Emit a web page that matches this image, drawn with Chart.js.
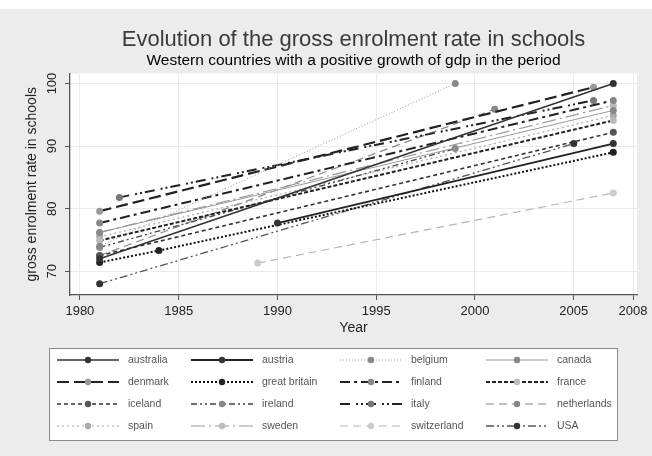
<!DOCTYPE html>
<html>
<head>
<meta charset="utf-8">
<script src="https://cdn.jsdelivr.net/npm/chart.js@4/dist/chart.umd.min.js"></script>
<style>
  html, body { margin: 0; padding: 0; background: #ececec; }
  #wrap { width: 652px; height: 456px; }
</style>
</head>
<body>
<div id="wrap"><canvas id="chart" width="652" height="456"></canvas></div>
<script>
// Gross enrolment rate, western countries

const countries = [
  'australia', 'austria', 'belgium', 'canada',
  'denmark', 'great britain', 'finland', 'france',
  'iceland', 'ireland', 'italy', 'netherlands',
  'spain', 'sweden', 'switzerland', 'USA',
];

// observation years per country (same order as countries)
const years = [
  [1981, 2007], [1990, 2007], [1981, 1999], [1981, 2007],
  [1981, 2006], [1981, 1984, 2007], [1981, 2007], [1981, 2007],
  [1981, 2007], [1981, 1999], [1982, 2006], [1981, 2001],
  [1981, 2007], [1981, 2007], [1989, 2007], [1981, 2005],
];

// gross enrolment rate at those years
const rates = [
  [72.0, 100.0], [77.7, 90.4], [74.0, 100.0], [76.2, 95.7],
  [79.6, 99.4], [71.4, 73.3, 89.0], [77.7, 97.3], [74.9, 94.1],
  [72.5, 92.2], [73.8, 89.6], [81.8, 97.3], [72.5, 95.9],
  [75.5, 94.9], [76.2, 96.5], [71.3, 82.5], [68.0, 90.4],
];

const xTicks = [1980, 1985, 1990, 1995, 2000, 2005, 2008];
const yTicks = [70, 80, 90, 100];

// --- Styles (greyscale, stata-like) ---
const lineColors = [
  '#333', '#222', '#9a9a9a', '#9a9a9a',
  '#222', '#111', '#222', '#222',
  '#333', '#444', '#222', '#888',
  '#aaa', '#999', '#b5b5b5', '#555',
];
const lineWidths = [1.6, 1.8, 1, 1, 2.2, 2, 2, 2, 1.6, 1.3, 2, 1.2, 1.2, 1.2, 1.2, 1.3];
const dashes = [
  [], [], [1, 2], [],
  [12, 5], [2, 2], [10, 4, 3, 4], [4, 2],
  [4, 3], [6, 3, 2, 3, 2, 3], [10, 6, 2, 3, 2, 3], [8, 5],
  [2, 3], [14, 4, 2, 4], [8, 5], [8, 3, 2, 3, 2, 3],
];
const markerColors = [
  '#333', '#333', '#888', '#888',
  '#999', '#222', '#888', '#bbb',
  '#555', '#888', '#777', '#888',
  '#aaa', '#bbb', '#ccc', '#333',
];

const FONT = "'Liberation Sans', Arial, sans-serif";
Chart.defaults.font.family = FONT;

const datasets = countries.map((name, i) => ({
  label: name,
  data: years[i].map((yr, j) => ({ x: yr, y: rates[i][j] })),
  borderColor: lineColors[i],
  borderWidth: lineWidths[i],
  borderDash: dashes[i],
  pointBackgroundColor: markerColors[i],
  pointBorderColor: markerColors[i],
  pointRadius: 3.5,
  pointBorderWidth: 0,
  tension: 0,
  fill: false,
}));

// background: grey graph region, white plot region
const backdrop = {
  id: 'backdrop',
  beforeDraw(chart) {
    const { ctx, chartArea: a } = chart;
    ctx.save();
    ctx.fillStyle = '#ececec';
    ctx.fillRect(0, 0, chart.width, chart.height);
    ctx.fillStyle = '#ffffff';
    ctx.fillRect(0, 0, chart.width, 9);
    ctx.fillRect(a.left, a.top, a.right - a.left, a.bottom - a.top);
    ctx.restore();
  },
};

// boxed legend, 4 columns
const boxLegend = {
  id: 'boxLegend',
  afterDraw(chart) {
    const ctx = chart.ctx;
    const box = { x: 49, y: 348, w: 568, h: 92 };
    const colX = [57, 191, 340, 486];
    ctx.save();
    ctx.fillStyle = '#fff';
    ctx.fillRect(box.x, box.y, box.w, box.h);
    ctx.strokeStyle = '#8a8a8a';
    ctx.lineWidth = 1;
    ctx.strokeRect(box.x + 0.5, box.y + 0.5, box.w, box.h);
    ctx.font = '10.5px ' + FONT;
    ctx.textBaseline = 'middle';
    chart.data.datasets.forEach((ds, i) => {
      const x = colX[i % 4];
      const y = 360 + Math.floor(i / 4) * 22;
      ctx.strokeStyle = ds.borderColor;
      ctx.lineWidth = ds.borderWidth;
      ctx.setLineDash(ds.borderDash);
      ctx.beginPath();
      ctx.moveTo(x, y);
      ctx.lineTo(x + 62, y);
      ctx.stroke();
      ctx.setLineDash([]);
      ctx.fillStyle = ds.pointBackgroundColor;
      ctx.beginPath();
      ctx.arc(x + 31, y, 3.2, 0, Math.PI * 2);
      ctx.fill();
      ctx.fillStyle = '#555';
      ctx.fillText(ds.label, x + 71, y);
    });
    ctx.restore();
  },
};

new Chart(document.getElementById('chart'), {
  type: 'line',
  data: { datasets },
  plugins: [backdrop, boxLegend],
  options: {
    responsive: false,
    animation: false,
    layout: { padding: { top: 0, left: 0, right: 15, bottom: 116 } },
    plugins: {
      legend: { display: false },
      tooltip: { enabled: false },
      title: {
        display: true,
        fullSize: false,
        text: 'Evolution of the gross enrolment rate in schools',
        color: '#3a3a3a',
        font: { size: 22, weight: 'normal' },
        padding: { top: 27, bottom: 0 },
      },
      subtitle: {
        display: true,
        fullSize: false,
        text: 'Western countries with a positive growth of gdp in the period',
        color: '#000',
        font: { size: 15.5, weight: 'normal' },
        padding: { top: -1.5, bottom: 3 },
      },
    },
    scales: {
      x: {
        type: 'linear',
        min: 1979.5,
        max: 2008.2,
        afterBuildTicks: (s) => { s.ticks = xTicks.map(v => ({ value: v })); },
        afterFit: (s) => { s.height = 45; },
        ticks: {
          color: '#222',
          font: { size: 13 },
          padding: 4,
          maxRotation: 0,
          callback: (v) => String(v),
        },
        grid: { color: '#ebebeb', tickColor: '#555', tickLength: 5 },
        border: { color: '#555', width: 1.3 },
        title: {
          display: true,
          text: 'Year',
          color: '#222',
          font: { size: 14 },
          padding: { top: 0, bottom: 3 },
        },
      },
      y: {
        min: 66.2,
        max: 101.6,
        afterBuildTicks: (s) => { s.ticks = yTicks.map(v => ({ value: v })); },
        afterFit: (s) => { s.width = 70; },
        ticks: {
          color: '#222',
          font: { size: 13 },
          padding: 2,
          minRotation: 90,
          maxRotation: 90,
          crossAlign: 'center',
        },
        grid: { color: '#ebebeb', tickColor: '#555', tickLength: 5 },
        border: { color: '#555', width: 1.3 },
        title: {
          display: true,
          text: 'gross enrolment rate in schools',
          color: '#222',
          font: { size: 14 },
          padding: { top: 24, bottom: 0 },
        },
      },
    },
  },
});
</script>
</body>
</html>
